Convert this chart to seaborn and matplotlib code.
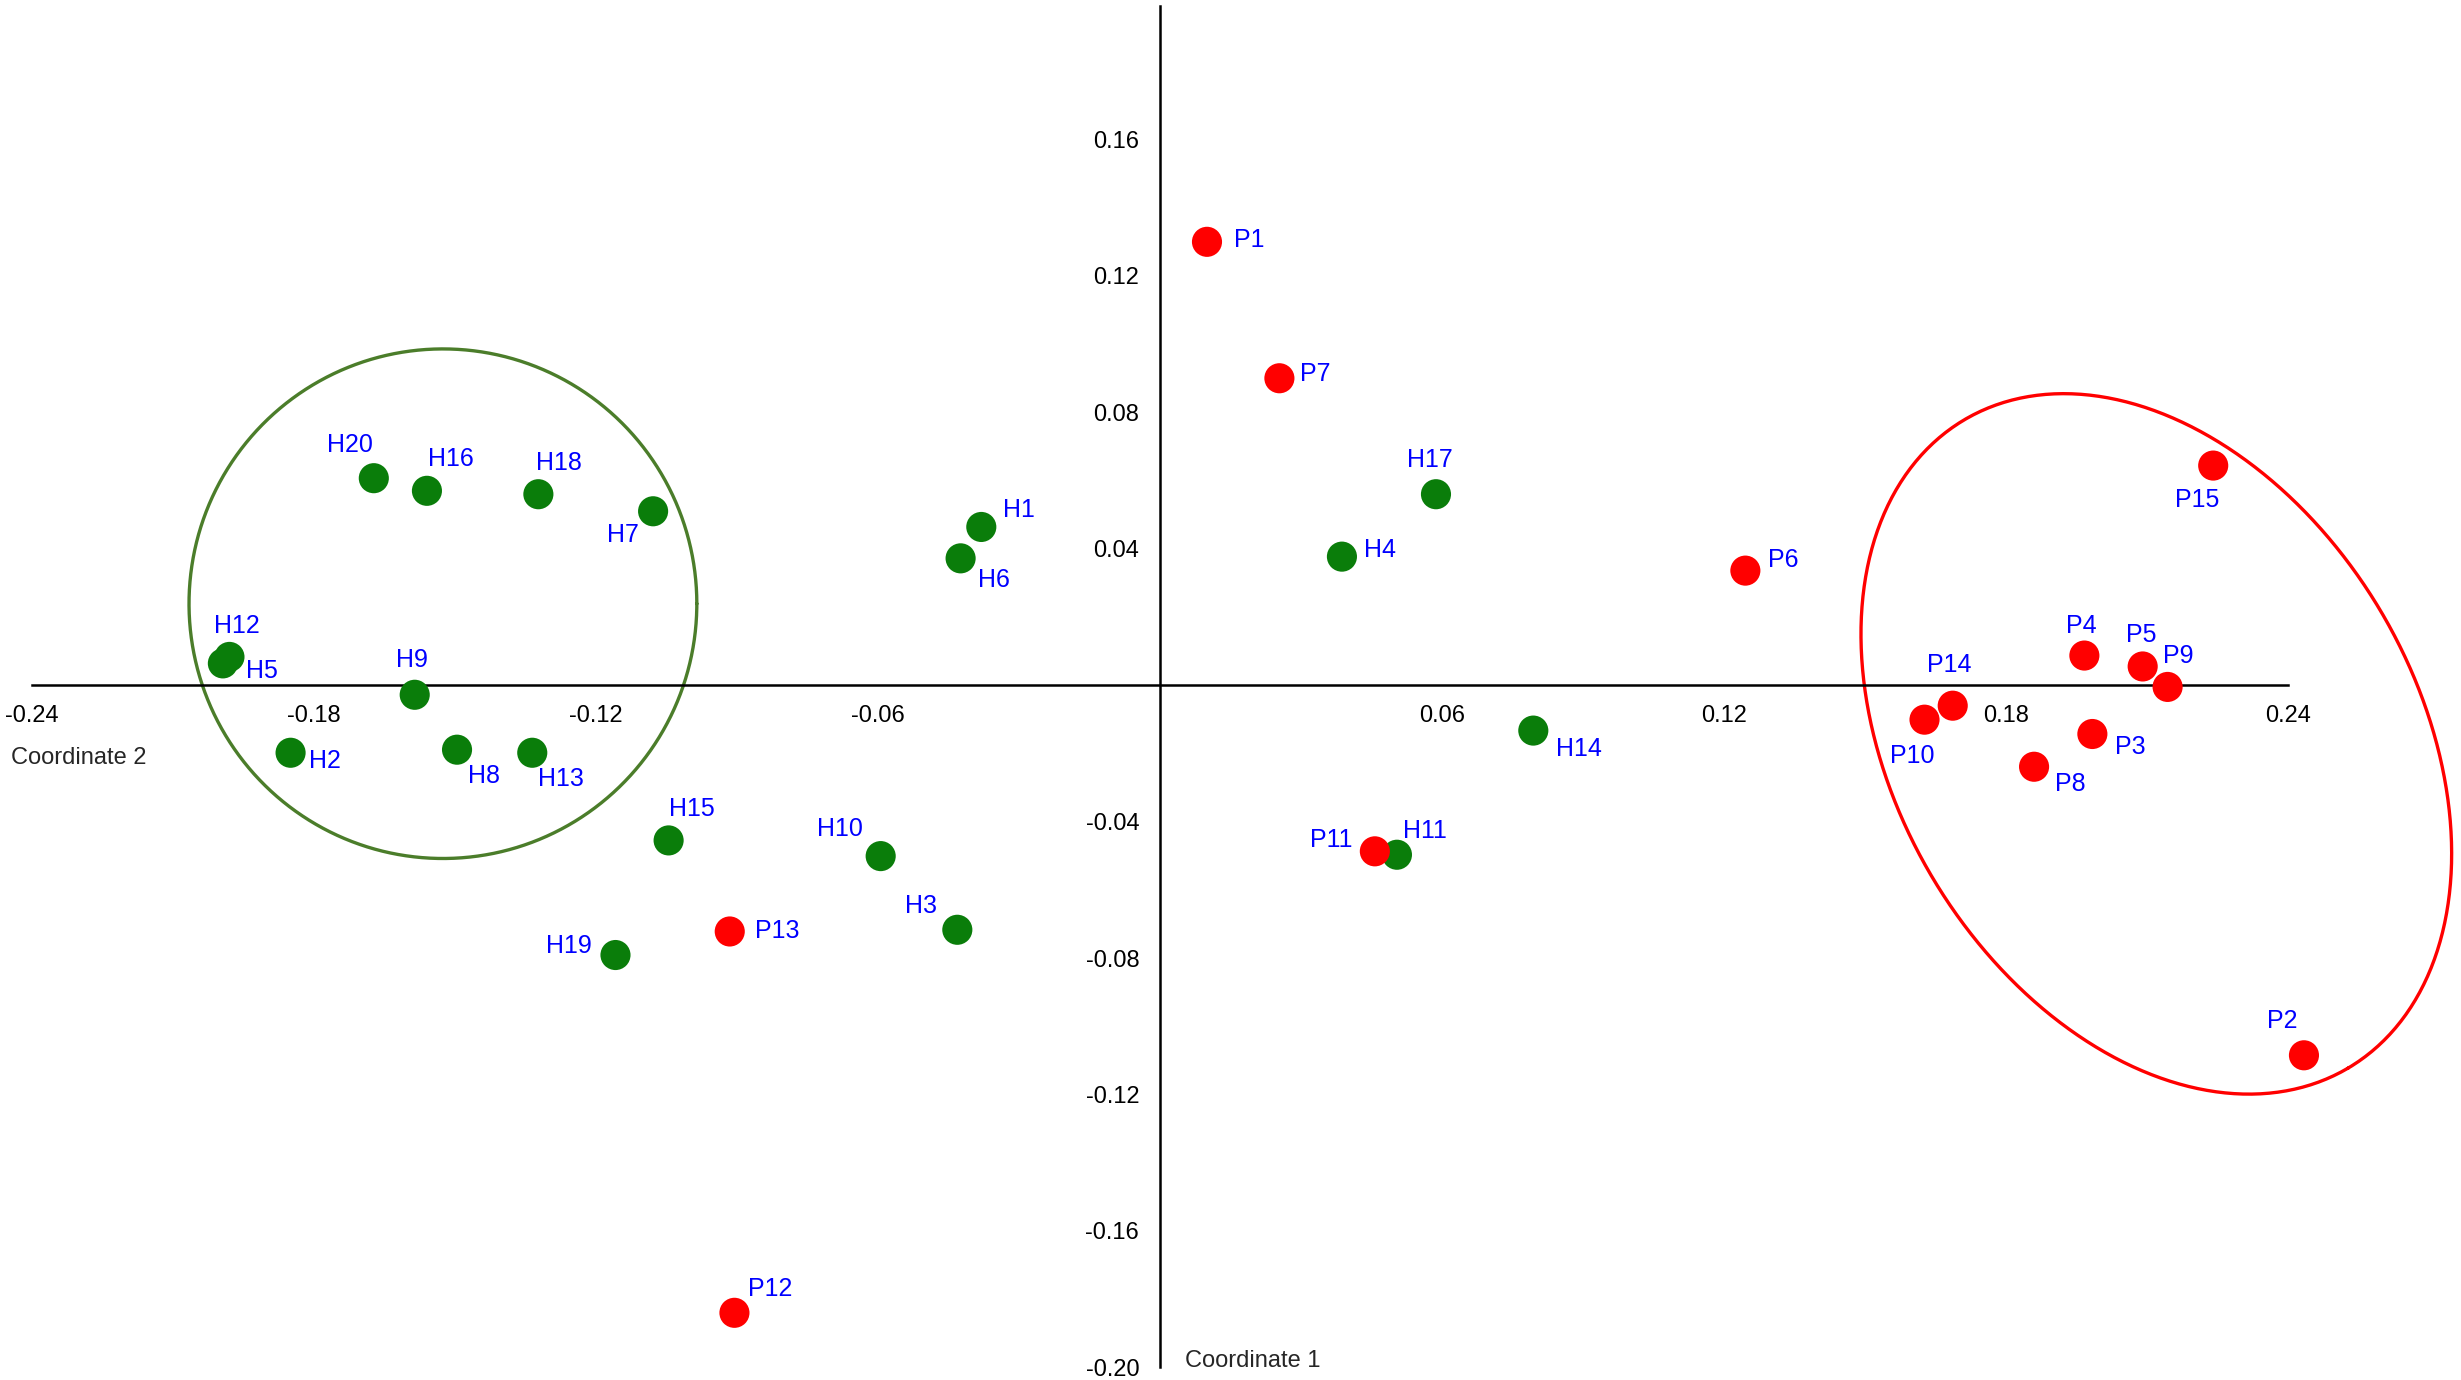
import numpy as np
import pandas as pd
import matplotlib
matplotlib.use('Agg')
import matplotlib.pyplot as plt
import seaborn as sns

# PCoA coordinates
names = ['H1', 'H2', 'H3', 'H4', 'H5', 'H6', 'H7', 'H8', 'H9', 'H10',
         'H11', 'H12', 'H13', 'H14', 'H15', 'H16', 'H17', 'H18', 'H19', 'H20',
         'P1', 'P2', 'P3', 'P4', 'P5', 'P6', 'P7', 'P8', 'P9', 'P10',
         'P11', 'P12', 'P13', 'P14', 'P15']
coord2 = [-0.0380, -0.1849, -0.0431, 0.0387, -0.1993, -0.0424, -0.1078, -0.1495, -0.1585, -0.0594,
          0.0504, -0.1979, -0.1335, 0.0794, -0.1045, -0.1559, 0.0587, -0.1322, -0.1158, -0.1672,
          0.0100, 0.2433, 0.1983, 0.1966, 0.2090, 0.1245, 0.0254, 0.1859, 0.2143, 0.1626,
          0.0457, -0.0905, -0.0915, 0.1686, 0.2240]
coord1 = [0.0464, -0.0198, -0.0717, 0.0377, 0.0064, 0.0372, 0.0510, -0.0189, -0.0028, -0.0501,
          -0.0497, 0.0083, -0.0198, -0.0133, -0.0455, 0.0570, 0.0560, 0.0560, -0.0791, 0.0607,
          0.1300, -0.1085, -0.0143, 0.0087, 0.0055, 0.0336, 0.0900, -0.0239, -0.0005, -0.0101,
          -0.0487, -0.1840, -0.0722, -0.0060, 0.0644]
group = [n[0] for n in names]

df = pd.DataFrame({'name': names, 'x': coord2, 'y': coord1, 'group': group})

# label offsets (reference pixels, +y = down)
label_offsets = {
    'P1': (27, -1), 'P7': (23, -3), 'H17': (-4, -22), 'H4': (24, -4), 'P6': (24, -7),
    'H1': (24, -11), 'H6': (21, 14), 'H20': (-15, -21), 'H16': (15, -20), 'H18': (13, -20),
    'H7': (-19, 15), 'H12': (5, -20), 'H5': (25, 5), 'H9': (-2, -22), 'H2': (22, 5),
    'H8': (17, 17), 'H13': (18, 17), 'H15': (15, -20), 'H10': (-26, -17), 'H3': (-23, -15),
    'P13': (30, 0), 'H19': (-30, -6), 'P12': (23, -15), 'H14': (29, 12), 'P11': (-28, -7),
    'H11': (18, -15), 'P15': (-10, 22), 'P4': (-2, -19), 'P5': (-1, -20), 'P9': (7, -20),
    'P14': (-2, -26), 'P10': (-8, 23), 'P3': (24, 8), 'P8': (23, 11), 'P2': (-14, -22),
}

sns.set_theme(style='white')
plt.rcParams['font.family'] = ['Liberation Sans', 'DejaVu Sans']

fig = plt.figure(figsize=(24.61, 13.80), dpi=100)
ax = fig.add_axes([0, 0, 1, 1])

sns.scatterplot(data=df, x='x', y='y', hue='group',
                palette={'H': '#0a7d0a', 'P': '#ff0000'},
                s=470, linewidth=0, legend=False, ax=ax, zorder=3)

px = 2461 / 1568 * 0.72  # reference pixel -> points
for _, r in df.iterrows():
    dx, dy = label_offsets[r['name']]
    ax.annotate(r['name'], (r['x'], r['y']), xytext=(dx * px, -dy * px),
                textcoords='offset points', ha='center', va='center',
                color='#0000ff', fontsize=18, zorder=4)

# group outlines
t = np.linspace(0, 2 * np.pi, 400)
ax.plot(-0.1525 + 0.054 * np.cos(t), 0.0239 + 0.0747 * np.sin(t),
        color='#4b7d2a', lw=2.4, zorder=2)
ax.plot(0.2119 + 0.04082 * np.cos(t) - 0.04774 * np.sin(t),
        -0.0172 - 0.09503 * np.cos(t) - 0.03890 * np.sin(t),
        color='#ff0000', lw=2.4, zorder=2)

ax.set_xlim(-0.2467, 0.2767)
ax.set_ylim(-0.2037, 0.2009)

for side in ['top', 'right']:
    ax.spines[side].set_visible(False)
ax.spines['left'].set_position(('data', 0))
ax.spines['bottom'].set_position(('data', 0))
ax.spines['left'].set_bounds(-0.20, 0.199)
ax.spines['bottom'].set_bounds(-0.24, 0.24)
for side in ['left', 'bottom']:
    ax.spines[side].set_color('black')
    ax.spines[side].set_linewidth(1.8)

xt = [-0.24, -0.18, -0.12, -0.06, 0.06, 0.12, 0.18, 0.24]
yt = [-0.20, -0.16, -0.12, -0.08, -0.04, 0.04, 0.08, 0.12, 0.16]
ax.set_xticks(xt)
ax.set_xticklabels([f'{v:.2f}' for v in xt])
ax.set_yticks(yt)
ax.set_yticklabels([f'{v:.2f}' for v in yt])
ax.tick_params(axis='x', direction='out', length=10, width=1.6, labelsize=17, pad=4,
               colors='black')
ax.tick_params(axis='y', direction='out', length=9, width=1.6, labelsize=17, pad=6,
               colors='black')
ax.set_xlabel('')
ax.set_ylabel('')

ax.text(0.0045, 0.451, 'Coordinate 2', transform=ax.transAxes, fontsize=17,
        ha='left', va='center')
ax.text(0.4815, 0.0136, 'Coordinate 1', transform=ax.transAxes, fontsize=17,
        ha='left', va='center')

fig.savefig('out.png', dpi=100)
